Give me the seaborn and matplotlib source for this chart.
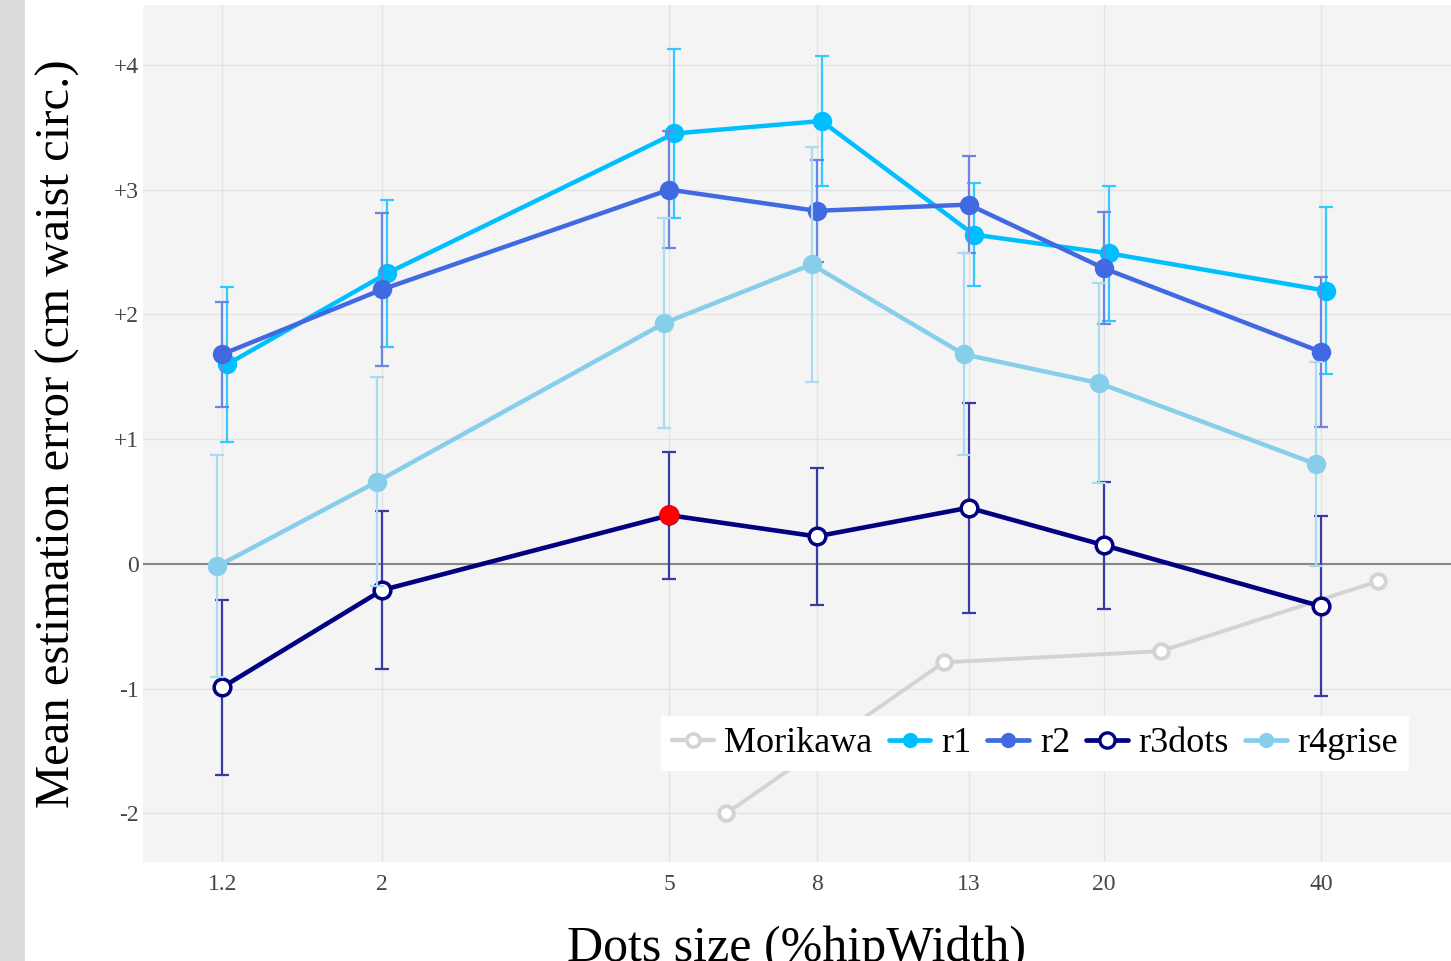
import matplotlib
matplotlib.use("Agg")
import matplotlib.pyplot as plt
import numpy as np
import pandas as pd
import seaborn as sns
from matplotlib.lines import Line2D
from matplotlib.patches import Rectangle
from matplotlib.ticker import FixedLocator, FixedFormatter, NullLocator

# ── data ────────────────────────────────────────────────────────────────────

DOT_SIZES = [1.2, 2, 5, 8, 13, 20, 40]
X_TICK_LABELS = ["1.2", "2", "5", "8", "13", "20", "40"]
Y_TICKS = [-2, -1, 0, 1, 2, 3, 4]
Y_TICK_LABELS = ["-2", "-1", "0", "+1", "+2", "+3", "+4"]

R1_MEAN = [1.60, 2.33, 3.45, 3.55, 2.64, 2.49, 2.19]
R1_ERR = [0.62, 0.59, 0.68, 0.52, 0.41, 0.54, 0.67]
R2_MEAN = [1.68, 2.20, 3.00, 2.83, 2.88, 2.37, 1.70]
R2_ERR = [0.42, 0.61, 0.47, 0.41, 0.39, 0.45, 0.60]
R3_MEAN = [-0.99, -0.21, 0.39, 0.22, 0.45, 0.15, -0.34]
R3_ERR = [0.70, 0.63, 0.51, 0.55, 0.84, 0.51, 0.72]
R4_MEAN = [-0.02, 0.66, 1.93, 2.40, 1.68, 1.45, 0.80]
R4_ERR = [0.89, 0.84, 0.84, 0.94, 0.81, 0.80, 0.82]

MORIKAWA_X = [6, 12, 24, 48]
MORIKAWA_Y = [-2.00, -0.79, -0.70, -0.14]

HIGHLIGHT_SIZE = 5  # r3dots point shown in red

# ── styles ──────────────────────────────────────────────────────────────────

SERIES = [
    # name, mean, err, line colour, error bar colour, open marker, dodge factor
    ("r1", R1_MEAN, R1_ERR, "#00bfff", "#33c8ff", False, 1.016),
    ("r2", R2_MEAN, R2_ERR, "#4169e1", "#6a86e0", False, 1.0),
    ("r3dots", R3_MEAN, R3_ERR, "#000080", "#3a3aa6", True, 1.0),
    ("r4grise", R4_MEAN, R4_ERR, "#87ceeb", "#a9dcf1", False, 1 / 1.016),
]
MORIKAWA_COLOR = "#d3d3d3"
SERIF = ["Liberation Serif", "DejaVu Serif"]

sns.set_theme(style="whitegrid", rc={
    "axes.facecolor": "#f4f4f4",
    "grid.color": "#e3e3e3",
    "grid.linewidth": 1.0,
})
plt.rcParams["font.family"] = SERIF

fig = plt.figure(figsize=(14.51, 9.61), dpi=100)
fig.patch.set_facecolor("white")
fig.patches.append(Rectangle((0, 0), 25 / 1451, 1, transform=fig.transFigure,
                             facecolor="#dcdcdc", edgecolor="none", zorder=0))
ax = fig.add_axes([143 / 1451, 99 / 961, 1308 / 1451, 857 / 961])

ax.set_xscale("log")
ax.set_xlim(0.932, 60.6)
ax.set_ylim(-2.39, 4.48)
ax.axhline(0, color="#888888", linewidth=1.5, zorder=1.5)

# Morikawa reference curve
sns.lineplot(x=MORIKAWA_X, y=MORIKAWA_Y, ax=ax, color=MORIKAWA_COLOR,
             linewidth=2.8, marker="o", markersize=10.5, markerfacecolor="white",
             markeredgecolor=MORIKAWA_COLOR, markeredgewidth=2.8, zorder=2)

z = 3
for name, mean, err, col, ecol, open_marker, dodge in SERIES:
    xs = np.array(DOT_SIZES) * dodge
    ax.errorbar(xs, mean, yerr=err, fmt="none", ecolor=ecol, elinewidth=1.6,
                capsize=4.8, capthick=1.6, zorder=z)
    if open_marker:
        sns.lineplot(x=xs, y=mean, ax=ax, color=col, linewidth=3.3, marker="o",
                     markersize=12, markerfacecolor="white", markeredgecolor=col,
                     markeredgewidth=2.5, zorder=z + 0.5)
        hi = [i for i, s in enumerate(DOT_SIZES) if s == HIGHLIGHT_SIZE]
        sns.scatterplot(x=xs[hi], y=np.array(mean)[hi], ax=ax, color="#ff0000",
                        s=210, edgecolor="none", zorder=z + 0.6)
    else:
        sns.lineplot(x=xs, y=mean, ax=ax, color=col, linewidth=3.2, marker="o",
                     markersize=14, markeredgewidth=0, zorder=z + 0.5)
    z += 1

ax.xaxis.set_major_locator(FixedLocator(DOT_SIZES))
ax.xaxis.set_major_formatter(FixedFormatter(X_TICK_LABELS))
ax.xaxis.set_minor_locator(NullLocator())
ax.yaxis.set_major_locator(FixedLocator(Y_TICKS))
ax.yaxis.set_major_formatter(FixedFormatter(Y_TICK_LABELS))
ax.tick_params(axis="both", length=0, labelsize=17, labelcolor="#444444")
ax.tick_params(axis="x", pad=9)
ax.tick_params(axis="y", pad=3)
ax.grid(True, which="major")
for spine in ax.spines.values():
    spine.set_visible(False)

ax.set_xlabel("Dots size (%hipWidth)", fontsize=36, color="black")
ax.xaxis.set_label_coords(0.5, -0.074)
ax.set_ylabel("Mean estimation error (cm waist circ.)", fontsize=35, color="black")
ax.yaxis.set_label_coords(-0.048, 0.5)

# legend
handles = [
    Line2D([], [], color=MORIKAWA_COLOR, linewidth=3.2, marker="o", markersize=9.5,
           markerfacecolor="white", markeredgecolor=MORIKAWA_COLOR, markeredgewidth=2.6),
]
labels = ["Morikawa"]
for name, mean, err, col, ecol, open_marker, dodge in SERIES:
    handles.append(Line2D([], [], color=col, linewidth=3.4, marker="o", markersize=11,
                          markerfacecolor="white" if open_marker else col,
                          markeredgecolor=col, markeredgewidth=2.4 if open_marker else 0))
    labels.append(name)

leg = ax.legend(handles, labels, ncol=5, loc="lower right",
                bbox_to_anchor=(0.968, 0.106), fontsize=26, frameon=True,
                fancybox=False, framealpha=1, facecolor="white", edgecolor="none",
                handlelength=1.15, handletextpad=0.3, columnspacing=0.45,
                borderpad=0.3, borderaxespad=0)
leg.set_zorder(20)
for t in leg.get_texts():
    t.set_color("black")

fig.savefig("out.png", dpi=100, facecolor=fig.get_facecolor())
